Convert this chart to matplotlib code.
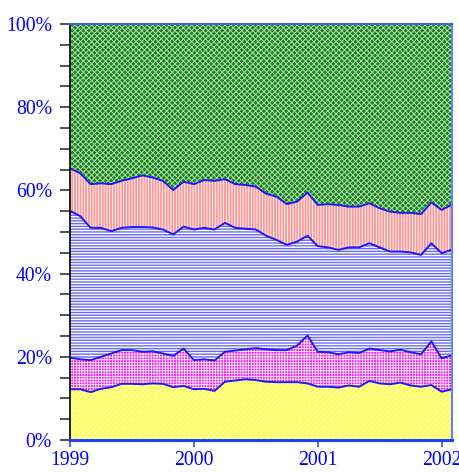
import numpy as np
import matplotlib
matplotlib.use("Agg")
import matplotlib.pyplot as plt
from matplotlib.ticker import MultipleLocator, FuncFormatter

# Monthly shares (%) Jan 1999 .. Feb 2002
months = 1999 + np.arange(38) / 12.0
yellow = [12.2,12.2,11.5,12.3,12.7,13.5,13.5,13.4,13.6,13.5,12.7,13.0,12.2,12.3,11.8,14.0,14.3,14.6,14.4,14.0,
          13.9,13.9,13.9,13.6,12.8,12.8,12.6,13.1,12.8,14.2,13.6,13.4,13.8,13.1,12.8,13.2,11.6,12.2]
magenta = [7.6,7.2,7.7,7.7,8.1,8.1,8.1,7.8,7.7,7.3,7.5,9.0,7.0,7.1,7.3,7.2,7.2,7.2,7.7,7.8,
           7.7,7.7,8.8,11.5,8.4,8.3,8.0,8.0,8.1,7.8,8.0,7.9,7.9,8.0,7.8,10.5,8.0,8.2]
blue = [35.3,34.4,31.8,31.0,29.4,29.4,29.6,30.0,29.8,29.8,29.2,29.3,31.4,31.6,31.5,31.0,29.5,29.0,28.5,27.3,
        26.5,25.3,25.0,24.0,25.4,25.2,25.1,25.2,25.4,25.3,24.7,24.0,23.6,24.0,23.9,23.6,25.3,25.4]
salmon = [10.2,10.3,10.5,10.7,11.3,11.3,11.7,12.4,12.0,11.7,10.7,10.8,10.9,11.5,11.7,10.5,10.5,10.5,10.3,10.1,
          10.4,9.8,9.6,10.4,9.9,10.4,10.8,9.8,9.8,9.6,9.4,9.6,9.3,9.5,9.8,9.8,10.4,10.8]
green = [34.7,35.9,38.5,38.3,38.5,37.7,37.1,36.4,36.9,37.7,39.9,37.9,38.5,37.5,37.7,37.3,38.5,38.7,39.1,40.8,
         41.5,43.3,42.7,40.5,43.5,43.3,43.5,43.9,43.9,43.1,44.3,45.1,45.4,45.4,45.7,42.9,44.7,43.4]
year_ticks = [1999, 2000, 2001, 2002]

series = np.array([yellow, magenta, blue, salmon, green], dtype=float)
series = series / series.sum(axis=0) * 100
cum = np.vstack([np.zeros(len(months)), np.cumsum(series, axis=0)])

styles = [
    (dict(facecolor="#ffff50", edgecolor="#ffffff", hatch="//////"), 0.7),
    (dict(facecolor="#ff10ff", edgecolor="#ffffff", hatch="++++++"), 0.6),
    (dict(facecolor="#ffffff", edgecolor="#6a6aff", hatch="------"), 1.0),
    (dict(facecolor="#ff9a9a", edgecolor="#ffffff", hatch="||||||"), 0.6),
    (dict(facecolor="#1e7f1e", edgecolor="#a8e0a8", hatch="xxxxxx"), 0.7),
]

plt.rcParams["font.family"] = ["Liberation Serif", "DejaVu Serif"]

fig = plt.figure(figsize=(4.6, 4.72), dpi=100)
ax = fig.add_axes([70/460, 32/472, 382/460, 416/472])

for k in range(5):
    st, hl = styles[k]
    plt.rcParams["hatch.linewidth"] = hl
    ax.fill_between(months, cum[k], cum[k+1], linewidth=0, **st)
for k in range(1, 5):
    ax.plot(months, cum[k], color="#1a1aff", lw=1.4)

ax.set_xlim(months[0], months[-1])
ax.set_ylim(0, 100)
ax.set_xticks(year_ticks)
ax.set_xticklabels([str(y) for y in year_ticks])
ax.yaxis.set_major_locator(MultipleLocator(20))
ax.yaxis.set_minor_locator(MultipleLocator(5))
ax.yaxis.set_major_formatter(FuncFormatter(lambda v, p: f"{int(round(v))}%"))

ax.tick_params(axis="y", which="both", direction="out", length=7, width=1.2, color="#333333",
               labelcolor="blue", labelsize=14.2, pad=6)
ax.tick_params(axis="x", which="major", direction="out", length=5, width=1.2, color="#3050e0",
               labelcolor="blue", labelsize=14.2, pad=3)

ax.spines["left"].set_color("#111111")
ax.spines["left"].set_linewidth(1.3)
ax.spines["bottom"].set_color("#2040ff")
ax.spines["bottom"].set_linewidth(2.2)
ax.spines["top"].set_color("#4060e0")
ax.spines["top"].set_linewidth(1.5)
ax.spines["right"].set_color("#6080ff")
ax.spines["right"].set_linewidth(1.5)

fig.savefig("out.png", dpi=100)
